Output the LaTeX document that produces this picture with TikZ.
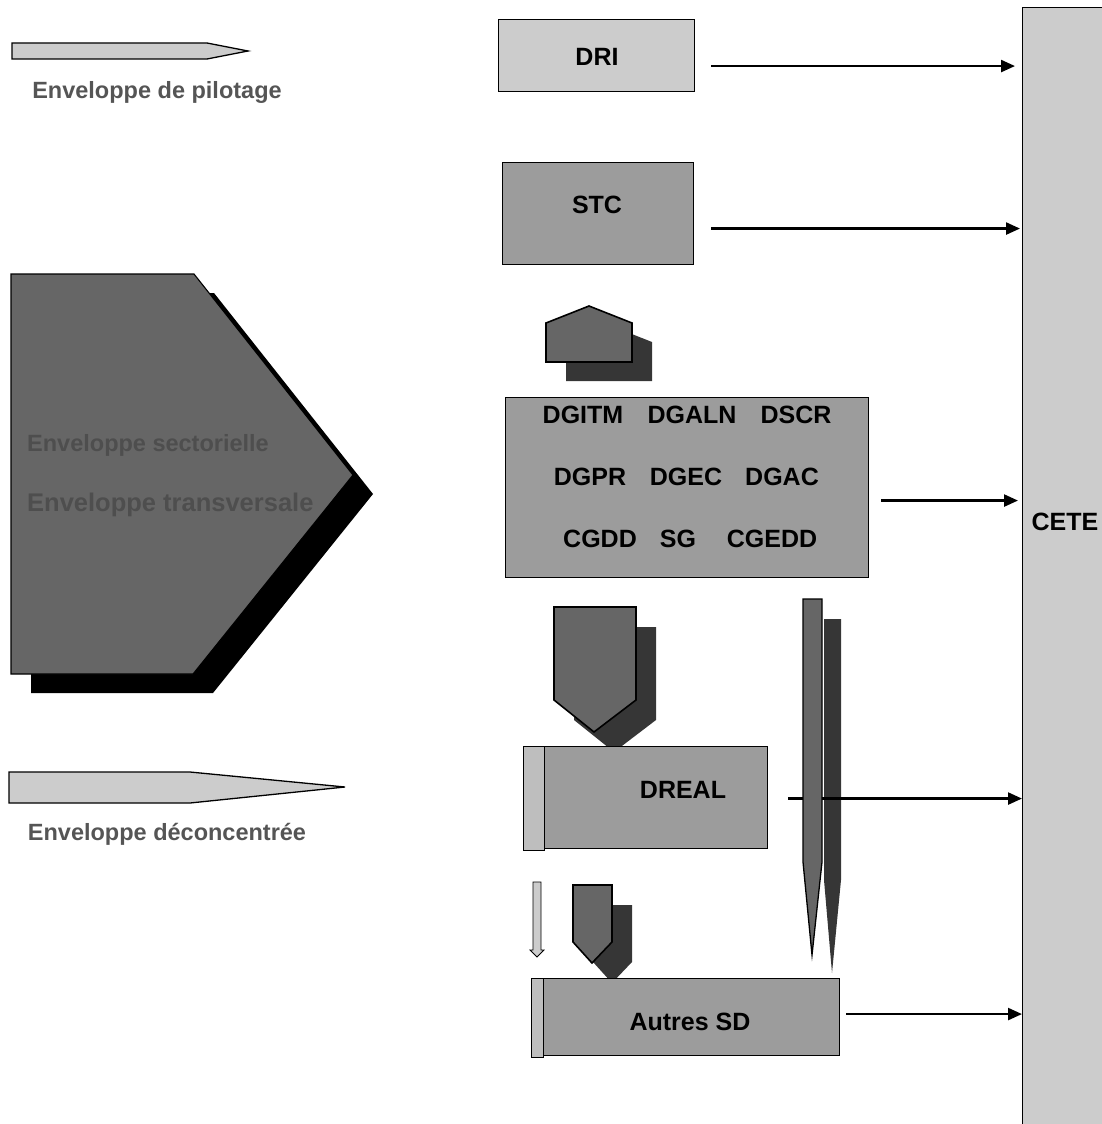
\documentclass[tikz,border=0pt]{standalone}
\usepackage{fontspec}
\setmainfont{Liberation Sans}
\usetikzlibrary{arrows.meta}
\definecolor{lgray}{HTML}{CCCCCC}
\definecolor{mgray}{HTML}{9C9C9C}
\definecolor{dgray}{HTML}{666666}
\definecolor{sgray}{HTML}{363636}
\definecolor{bgray}{HTML}{BEBEBE}
\definecolor{tgray}{HTML}{555555}
\definecolor{igray}{HTML}{4E4E4E}
\begin{document}
\begin{tikzpicture}[x=1pt,y=-1pt,
  box/.style={draw=black, line width=1.1pt, inner sep=0pt, anchor=north west},
  boxtext/.style={font=\fontsize{25}{30}\selectfont\bfseries, inner sep=0pt},
  lbl/.style={font=\fontsize{23.5}{28}\selectfont\bfseries, inner sep=0pt, text=tgray},
  flow/.style={line width=2.4pt, -{Triangle[length=14pt,width=12pt]}},
  shp/.style={draw=black, line width=1.6pt, line join=miter},
  shadowshp/.style={fill=sgray, draw=none},
]
\useasboundingbox (0,0) rectangle (1102,1124);
\clip (0,0) rectangle (1102,1124);

% CETE column
\node[box, fill=lgray, minimum width=90pt, minimum height=1130pt] (cete) at (1022,7) {};
\node[boxtext] (cetet) at (1065,522) {CETE};

% Left legend: pilotage arrow
\draw[shp, fill=lgray, line width=1.3pt] (12,43) -- (207,43) -- (248,51) -- (207,59) -- (12,59) -- cycle;
\node[lbl] (pil) at (157,92) {Enveloppe de pilotage};

% Big pentagon with shadow
\fill[black] (31,293) -- (214,293) -- (373,494) -- (213,693) -- (31,693) -- cycle;
\draw[fill=dgray, draw=black, line width=1.1pt] (11,274) -- (194,274) -- (353,475) -- (193,674) -- (11,674) -- cycle;
\node[lbl, text=igray, anchor=west] (sect) at (27,445) {Enveloppe sectorielle};
\node[lbl, text=igray, anchor=west, font=\fontsize{25.5}{30}\selectfont\bfseries] (trans) at (27,505) {Enveloppe transversale};

% deconcentree arrow
\draw[shp, fill=lgray, line width=1.3pt] (9,772) -- (190,772) -- (345,787) -- (190,803) -- (9,803) -- cycle;
\node[lbl] (dec) at (167,834) {Enveloppe déconcentrée};

% DRI
\node[box, fill=lgray, minimum width=196pt, minimum height=72pt] (dri) at (498,19) {};
\node[boxtext] (drit) at (597,57) {DRI};
% STC
\node[box, fill=mgray, minimum width=191pt, minimum height=102pt] (stc) at (502,162) {};
\node[boxtext] (stct) at (597,205) {STC};

% house shape with shadow
\fill[sgray] (566,381) -- (566,342) -- (609,325) -- (652,342) -- (652,381) -- cycle;
\draw[shp, fill=dgray] (546,362) -- (546,323) -- (589,306) -- (632,323) -- (632,362) -- cycle;

% big box
\node[box, fill=mgray, minimum width=363pt, minimum height=180pt] (dg) at (505,397) {};
\node[boxtext] (dgitm) at (583,415) {DGITM};
\node[boxtext] (dgaln) at (692,415) {DGALN};
\node[boxtext] (dscr) at (796,415) {DSCR};
\node[boxtext] (dgpr) at (590,477) {DGPR};
\node[boxtext] (dgec) at (686,477) {DGEC};
\node[boxtext] (dgac) at (782,477) {DGAC};
\node[boxtext] (cgdd) at (600,539) {CGDD};
\node[boxtext] (sg) at (678,539) {SG};
\node[boxtext] (cgedd) at (772,539) {CGEDD};

% pentagon above DREAL
\fill[sgray] (574,627) -- (656,627) -- (656,720) -- (614,752) -- (574,720) -- cycle;
\draw[shp, fill=dgray] (554,607) -- (636,607) -- (636,700) -- (594,732) -- (554,700) -- cycle;

% DREAL
\node[box, fill=mgray, minimum width=223pt, minimum height=102pt] (dreal) at (544,746) {};
\node[box, fill=bgray, minimum width=21pt, minimum height=104pt] (drealbar) at (523,746) {};
\node[boxtext] (drealt) at (683,790) {DREAL};

% small down arrow
\draw[fill=lgray, draw=black, line width=0.8pt] (533,882) -- (541,882) -- (541,950) -- (544,950) -- (537,957) -- (530,950) -- (533,950) -- cycle;

% small pentagon
\fill[sgray] (593,905) -- (632,905) -- (632,962) -- (612,983) -- (593,962) -- cycle;
\draw[shp, fill=dgray] (573,885) -- (612,885) -- (612,942) -- (592,963) -- (573,942) -- cycle;

% Autres SD
\node[box, fill=mgray, minimum width=296pt, minimum height=77pt] (autres) at (543,978) {};
\node[box, fill=bgray, minimum width=12pt, minimum height=79pt] (autresbar) at (531,978) {};
\node[boxtext] (autrest) at (690,1022) {Autres SD};

% spike shadow
\fill[sgray] (824,619) -- (841,619) -- (841,880) -- (832,973) -- (824,880) -- cycle;

% arrows to CETE
\coordinate (a1) at ([yshift=-10.5pt]dri.east);
\draw[flow, shorten <=16pt, shorten >=7pt] (a1) -- (a1 -| cete.west);
\coordinate (a2) at ([yshift=-15pt]stc.east);
\draw[flow, shorten <=17pt, shorten >=2pt] (a2) -- (a2 -| cete.west);
\coordinate (a3) at ([yshift=-13pt]dg.east);
\draw[flow, shorten <=12pt, shorten >=4pt] (a3) -- (a3 -| cete.west);
\coordinate (a4) at ([yshift=-1pt]dreal.east);
\draw[flow, shorten <=20pt, shorten >=0pt] (a4) -- (a4 -| cete.west);
\coordinate (a5) at ([yshift=3pt]autres.east);
\draw[flow, shorten <=6pt, shorten >=0pt] (a5) -- (a5 -| cete.west);

% main spike
\draw[shp, fill=dgray, line width=1.3pt] (803,599) -- (822,599) -- (822,862) -- (812,955) -- (803,862) -- cycle;
\end{tikzpicture}
\end{document}
